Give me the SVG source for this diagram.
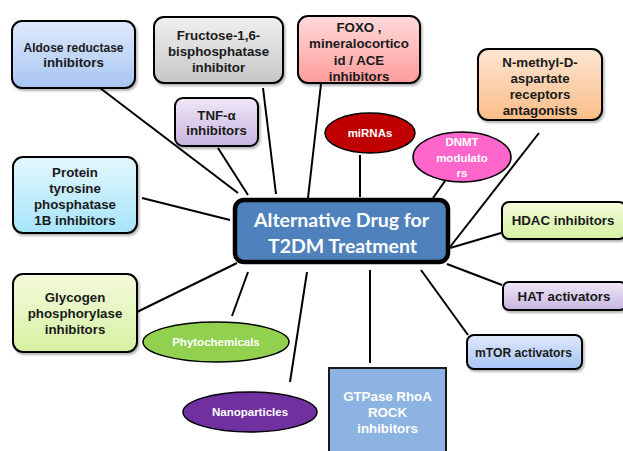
<svg xmlns="http://www.w3.org/2000/svg" width="623" height="451" viewBox="0 0 623 451">
<defs>
<linearGradient id="gBlue" x1="0" y1="0" x2="0" y2="1"><stop offset="0" stop-color="#dfe9fc"/><stop offset="1" stop-color="#a8c5f4"/></linearGradient>
<linearGradient id="gGrey" x1="0" y1="0" x2="0" y2="1"><stop offset="0" stop-color="#f0f0f0"/><stop offset="1" stop-color="#c6c6c6"/></linearGradient>
<linearGradient id="gPink" x1="0" y1="0" x2="0" y2="1"><stop offset="0" stop-color="#ffdada"/><stop offset="1" stop-color="#ff9c9c"/></linearGradient>
<linearGradient id="gOrange" x1="0" y1="0" x2="0" y2="1"><stop offset="0" stop-color="#fde6d2"/><stop offset="1" stop-color="#fbbd88"/></linearGradient>
<linearGradient id="gLav" x1="0" y1="0" x2="0" y2="1"><stop offset="0" stop-color="#efe7f7"/><stop offset="1" stop-color="#c7b5e0"/></linearGradient>
<linearGradient id="gCyan" x1="0" y1="0" x2="0" y2="1"><stop offset="0" stop-color="#e3f7fd"/><stop offset="1" stop-color="#a6e4f9"/></linearGradient>
<linearGradient id="gGreen" x1="0" y1="0" x2="0" y2="1"><stop offset="0" stop-color="#f4fbdc"/><stop offset="1" stop-color="#d6f0a2"/></linearGradient>
<filter id="sh" x="-10%" y="-10%" width="125%" height="130%"><feDropShadow dx="1.5" dy="2" stdDeviation="1.2" flood-color="#000" flood-opacity="0.3"/></filter>
</defs>
<style>
.box{stroke:#000;stroke-width:2;filter:url(#sh)}
.t{font-family:"Liberation Sans",Arial,sans-serif;font-weight:bold;font-size:13.3px;fill:#1a1a1a;text-anchor:middle}
.e{font-family:"Liberation Sans",Arial,sans-serif;font-weight:bold;font-size:11.5px;fill:#fff;text-anchor:middle}
.w{fill:#fff}
.c{stroke:#000;stroke-width:2;fill:none}
.main{font-family:Lato,"Open Sans","Liberation Sans",sans-serif;font-weight:bold;font-size:19px;fill:#fff;text-anchor:middle}
</style>
<g id="connectors">
<line class="c" x1="100" y1="88" x2="238" y2="193"/>
<line class="c" x1="218" y1="148" x2="248" y2="195"/>
<line class="c" x1="263" y1="88" x2="276" y2="194"/>
<line class="c" x1="321" y1="84" x2="308" y2="198"/>
<line class="c" x1="360" y1="155" x2="360" y2="197"/>
<line class="c" x1="445" y1="181" x2="433" y2="198"/>
<line class="c" x1="539" y1="133" x2="450" y2="247"/>
<line class="c" x1="501" y1="233" x2="450" y2="248"/>
<line class="c" x1="447" y1="264" x2="502" y2="285"/>
<line class="c" x1="421" y1="270" x2="468" y2="335"/>
<line class="c" x1="370" y1="270" x2="370" y2="363"/>
<line class="c" x1="307" y1="272" x2="290" y2="382"/>
<line class="c" x1="248" y1="272" x2="232" y2="316"/>
<line class="c" x1="137" y1="312" x2="237" y2="263"/>
<line class="c" x1="142" y1="198" x2="230" y2="220"/>
</g>
<g id="aldose"><rect class="box" x="12" y="21" width="123" height="67" rx="10" fill="url(#gBlue)"/><text class="t" x="73.5" y="52" textLength="100" lengthAdjust="spacingAndGlyphs">Aldose reductase</text><text class="t" x="73.5" y="67">inhibitors</text></g>
<g id="fructose"><rect class="box" x="154" y="17" width="129" height="66" rx="10" fill="url(#gGrey)"/><text class="t" x="218.5" y="40">Fructose-1,6-</text><text class="t" x="218.5" y="56">bisphosphatase</text><text class="t" x="218.5" y="72">inhibitor</text></g>
<g id="foxo"><rect class="box" x="298" y="16" width="122" height="67" rx="10" fill="url(#gPink)"/><text class="t" x="359" y="32">FOXO ,</text><text class="t" x="359" y="48">mineralocortico</text><text class="t" x="359" y="65">id / ACE</text><text class="t" x="359" y="81">inhibitors</text></g>
<g id="nmda"><rect class="box" x="478" y="49" width="124" height="71" rx="10" fill="url(#gOrange)"/><text class="t" x="540" y="67">N-methyl-D-</text><text class="t" x="540" y="83">aspartate</text><text class="t" x="540" y="99">receptors</text><text class="t" x="540" y="115">antagonists</text></g>
<g id="tnf"><rect class="box" x="175" y="98" width="83" height="48" rx="8" fill="url(#gLav)"/><text class="t" x="216.5" y="120">TNF-α</text><text class="t" x="216.5" y="135">inhibitors</text></g>
<g id="mirnas"><ellipse cx="370" cy="133" rx="45" ry="20" fill="#c00000" stroke="#000" stroke-width="1.5"/><text class="e" x="370" y="137">miRNAs</text></g>
<g id="dnmt"><ellipse cx="462" cy="157" rx="49" ry="25" fill="#ff66cc" stroke="#000" stroke-width="1.5"/><text class="e" x="462" y="146">DNMT</text><text class="e" x="462" y="162">modulato</text><text class="e" x="462" y="177">rs</text></g>
<g id="ptp1b"><rect class="box" x="13" y="157" width="124" height="76" rx="10" fill="url(#gCyan)"/><text class="t" x="75" y="177">Protein</text><text class="t" x="75" y="193">tyrosine</text><text class="t" x="75" y="209">phosphatase</text><text class="t" x="75" y="225">1B inhibitors</text></g>
<g id="center"><rect x="235" y="200" width="213" height="62" rx="9" fill="#4f81bd" stroke="#000" stroke-width="4.5"/><text class="main" x="341.5" y="227" textLength="175" lengthAdjust="spacingAndGlyphs">Alternative Drug for</text><text class="main" x="342.5" y="253" textLength="149" lengthAdjust="spacingAndGlyphs">T2DM Treatment</text></g>
<g id="hdac"><rect class="box" x="502" y="202" width="124" height="37" rx="7" fill="url(#gGreen)"/><text class="t" x="563" y="225">HDAC inhibitors</text></g>
<g id="hat"><rect class="box" x="503" y="282" width="123" height="28" rx="6" fill="url(#gLav)"/><text class="t" x="564" y="301">HAT activators</text></g>
<g id="mtor"><rect class="box" x="467" y="335" width="115" height="34" rx="7" fill="url(#gBlue)"/><text class="t" x="523.5" y="357" textLength="97" lengthAdjust="spacingAndGlyphs">mTOR activators</text></g>
<g id="gtpase"><rect x="329" y="368" width="117" height="90" fill="#8db3e2" stroke="#1a1a1a" stroke-width="2"/><text class="t w" x="387.5" y="401">GTPase RhoA</text><text class="t w" x="387.5" y="417">ROCK</text><text class="t w" x="387.5" y="433">inhibitors</text></g>
<g id="glycogen"><rect class="box" x="13" y="274" width="124" height="78" rx="10" fill="url(#gGreen)"/><text class="t" x="75" y="302">Glycogen</text><text class="t" x="75" y="318">phosphorylase</text><text class="t" x="75" y="334">inhibitors</text></g>
<g id="phyto"><ellipse cx="216" cy="342" rx="73" ry="20" fill="#92d050" stroke="#000" stroke-width="1.5"/><text class="e" x="216" y="346">Phytochemicals</text></g>
<g id="nano"><ellipse cx="250" cy="412" rx="67" ry="20" fill="#7030a0" stroke="#000" stroke-width="1.5"/><text class="e" x="250" y="416">Nanoparticles</text></g>
</svg>
